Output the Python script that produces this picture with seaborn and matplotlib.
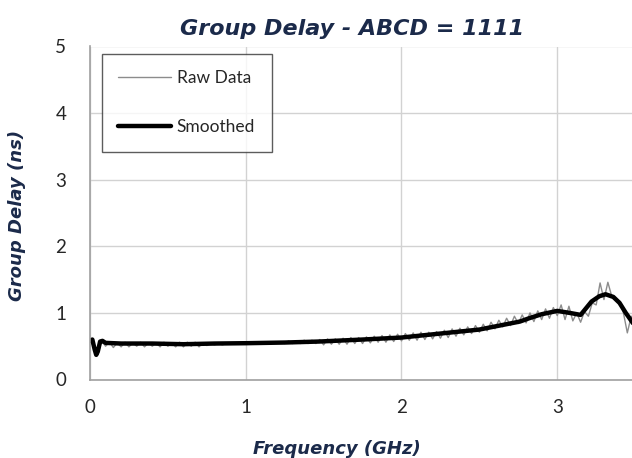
import numpy as np
import pandas as pd
import matplotlib
matplotlib.use("Agg")
import matplotlib.pyplot as plt
import seaborn as sns

# ---- data -------------------------------------------------------------
raw_freq = np.round(np.arange(0, 141) * 0.025, 3)  # measurement grid (GHz)
raw_delay = [
    0.58, 0.50, 0.38, 0.58, 0.50, 0.56, 0.48, 0.55, 0.49, 0.56,
    0.49, 0.55, 0.50, 0.56, 0.49, 0.55, 0.50, 0.55, 0.49, 0.56,
    0.50, 0.55, 0.49, 0.56, 0.49, 0.56, 0.50, 0.56, 0.49, 0.55,
    0.51, 0.54, 0.52, 0.54, 0.52, 0.54, 0.53, 0.54, 0.53, 0.55,
    0.53, 0.55, 0.54, 0.55, 0.54, 0.56, 0.54, 0.56, 0.55, 0.56,
    0.54, 0.58, 0.54, 0.58, 0.54, 0.59, 0.54, 0.59, 0.54, 0.60,
    0.52, 0.61, 0.53, 0.61, 0.53, 0.62, 0.53, 0.63, 0.54, 0.63,
    0.54, 0.64, 0.55, 0.65, 0.56, 0.66, 0.56, 0.67, 0.57, 0.68,
    0.58, 0.69, 0.59, 0.70, 0.59, 0.71, 0.60, 0.71, 0.61, 0.72,
    0.62, 0.74, 0.63, 0.76, 0.65, 0.77, 0.67, 0.79, 0.69, 0.81,
    0.71, 0.83, 0.73, 0.86, 0.76, 0.89, 0.79, 0.92, 0.81, 0.95,
    0.84, 0.97, 0.85, 1.00, 0.87, 1.03, 0.90, 1.06, 0.92, 1.08,
    0.96, 1.12, 0.90, 1.10, 0.88, 1.00, 0.86, 1.02, 0.95, 1.15,
    1.12, 1.45, 1.20, 1.46, 1.25, 1.20, 1.18, 1.00, 0.70, 0.95,
    0.80,
]

smooth_freq = [0.00, 0.015, 0.03, 0.04, 0.05, 0.065, 0.08, 0.10, 0.20, 0.40,
               0.60, 0.80, 1.00, 1.25, 1.47, 1.75, 2.00, 2.25, 2.50, 2.76,
               2.82, 2.90, 3.00, 3.08, 3.15, 3.22, 3.27, 3.31, 3.36, 3.40,
               3.44, 3.50]
smooth_delay = [0.58, 0.60, 0.45, 0.37, 0.42, 0.57, 0.58, 0.55, 0.54, 0.54,
                0.53, 0.54, 0.545, 0.555, 0.57, 0.60, 0.63, 0.69, 0.75, 0.87,
                0.92, 0.98, 1.03, 1.00, 0.97, 1.17, 1.25, 1.28, 1.24, 1.15,
                1.00, 0.80]

x_ticks = [0, 1, 2, 3]
y_ticks = [0, 1, 2, 3, 4, 5]

raw_df = pd.DataFrame({"Frequency": raw_freq, "Delay": raw_delay})
smooth_df = pd.DataFrame({"Frequency": smooth_freq, "Delay": smooth_delay})

# ---- style ------------------------------------------------------------
sns.set_theme(style="whitegrid")
plt.rcParams['font.family'] = ['Lato', 'DejaVu Sans']
navy = "#1B2A4A"
label_font = ['DejaVu Sans']

fig = plt.figure(figsize=(6.32, 4.58), dpi=100)
ax = fig.add_axes([90 / 632, (458 - 379.5) / 458, 1 - 90 / 632, 333 / 458])

sns.lineplot(data=raw_df, x="Frequency", y="Delay", ax=ax, color="#8C8C8C",
             linewidth=1.0, label="Raw Data", sort=False)
sns.lineplot(data=smooth_df, x="Frequency", y="Delay", ax=ax, color="black",
             linewidth=3.2, label="Smoothed", sort=False)

ax.set_xlim(0, 3.48)
ax.set_ylim(0, 5)
ax.set_xticks(x_ticks)
ax.set_yticks(y_ticks)
ax.tick_params(axis="both", labelsize=13.5, colors="#262626", length=5,
               width=1, direction="out")
ax.tick_params(axis="y", pad=12)
ax.tick_params(axis="x", pad=9)
ax.tick_params(axis="both", color="#A0A0A0")
ax.grid(True, color="#D2D2D2", linewidth=1)
ax.set_axisbelow(True)
for s in ["top", "right"]:
    ax.spines[s].set_visible(False)
for s in ["left", "bottom"]:
    ax.spines[s].set_visible(True)
    ax.spines[s].set_color("#A0A0A0")
    ax.spines[s].set_linewidth(1.2)

ax.set_xlabel("Frequency (GHz)", fontsize=13, fontweight="bold",
              fontstyle="italic", color=navy, family=label_font)
ax.xaxis.set_label_coords((337 - 90) / 542, -(449 - 379.5) / 333)
ax.xaxis.label.set_va("center")
ax.set_ylabel("Group Delay (ns)", fontsize=13, fontweight="bold",
              fontstyle="italic", color=navy, family=label_font)
ax.yaxis.set_label_coords(-(90 - 17) / 542, (379.5 - 215) / 333)
ax.yaxis.label.set_va("center")

fig.text(352 / 632, 1 - 29 / 458, "Group Delay - ABCD = 1111", ha="center",
         va="center", fontsize=16, fontweight="bold", fontstyle="italic",
         color=navy, family=label_font)

leg = ax.legend(loc="upper left",
                bbox_to_anchor=(102 / 632, 1 - 54 / 458),
                bbox_transform=fig.transFigure,
                frameon=True, fancybox=False, fontsize=12.5,
                handlelength=3.0, handletextpad=0.35, labelspacing=1.9,
                borderpad=0.95, borderaxespad=0)
leg.get_frame().set_edgecolor("#333333")
leg.get_frame().set_linewidth(1.0)
for t in leg.get_texts():
    t.set_color("#262626")

fig.savefig("out.png", dpi=100)
